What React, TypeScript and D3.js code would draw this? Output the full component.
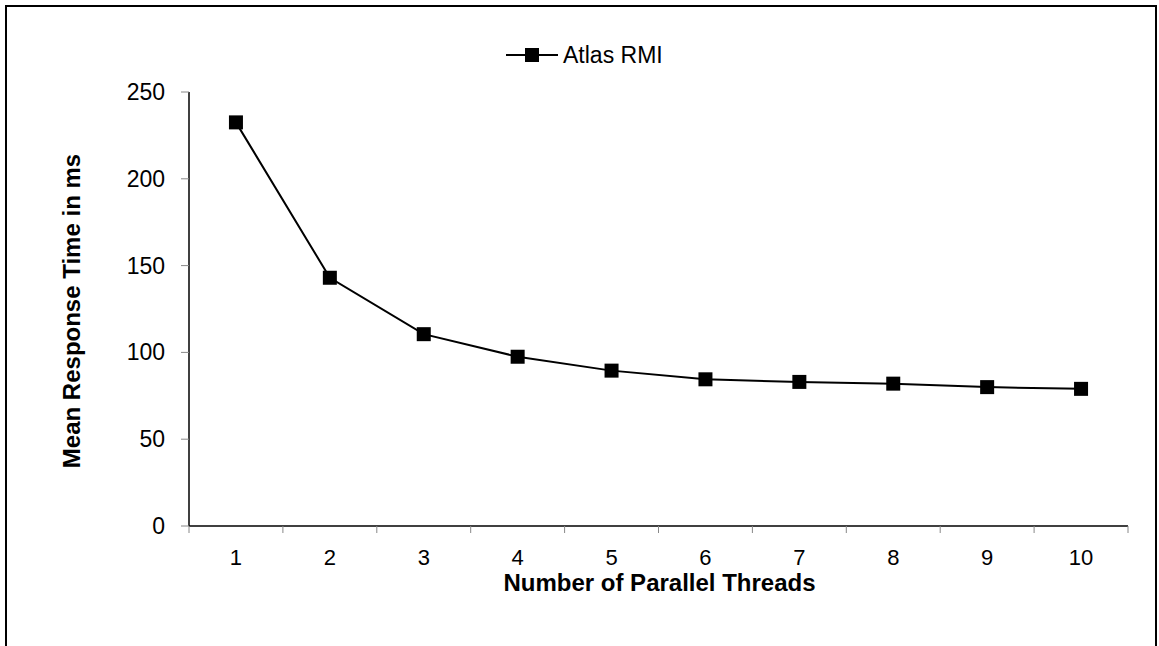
import React from "react";
import * as d3 from "d3";

const categories = ["1", "2", "3", "4", "5", "6", "7", "8", "9", "10"];
const seriesName = "Atlas RMI";
const values = [232.5, 143, 110.5, 97.5, 89.5, 84.5, 83, 82, 80, 79];
const yTicks = [0, 50, 100, 150, 200, 250];

export default function App() {
  const W = 1159, H = 646;
  const left = 189, right = 1128, top = 92, bottom = 526;
  const x = d3.scaleBand().domain(categories).range([left, right]);
  const y = d3.scaleLinear().domain([0, 250]).range([bottom, top]);
  const line = d3.line<number>()
    .x((_, i) => x(categories[i])! + x.bandwidth() / 2)
    .y((d) => y(d));
  const font = "Liberation Sans, Arial, sans-serif";
  const ms = 14;
  const fs = 23;
  return (
    <svg width={W} height={H} style={{ position: "absolute", left: 0, top: 0 }} fontFamily={font}>
      <rect x={0} y={0} width={W} height={H} fill="#fff" />
      <rect x={6} y={6} width={1150} height={700} fill="none" stroke="#000" strokeWidth={2} />
      {/* y axis */}
      <line x1={left} x2={left} y1={top} y2={bottom} stroke="#000" strokeWidth={1.5} />
      {yTicks.map((t) => (
        <g key={t}>
          <line x1={left - 8} x2={left} y1={y(t)} y2={y(t)} stroke="#888" strokeWidth={1} />
          <text x={left - 24} y={y(t)} dy="0.35em" textAnchor="end" fontSize={fs}>{t}</text>
        </g>
      ))}
      {/* x axis */}
      <line x1={left} x2={right} y1={bottom} y2={bottom} stroke="#000" strokeWidth={1.5} />
      {categories.map((c) => (
        <line key={"t" + c} x1={x(c)!} x2={x(c)!} y1={bottom} y2={bottom + 7} stroke="#888" strokeWidth={1} />
      ))}
      <line x1={right} x2={right} y1={bottom} y2={bottom + 7} stroke="#888" strokeWidth={1} />
      {categories.map((c) => (
        <text key={"l" + c} x={x(c)! + x.bandwidth() / 2} y={bottom + 31} dy="0.35em" textAnchor="middle" fontSize={22}>{c}</text>
      ))}
      <text x={(left + right) / 2 + 1} y={583} dy="0.35em" textAnchor="middle" fontSize={24} fontWeight="bold">Number of Parallel Threads</text>
      <text transform={`translate(72,${(top + bottom) / 2 + 2}) rotate(-90)`} dy="0.35em" textAnchor="middle" fontSize={24} fontWeight="bold">Mean Response Time in ms</text>
      {/* series */}
      <path d={line(values) || ""} fill="none" stroke="#000" strokeWidth={2} />
      {values.map((v, i) => (
        <rect key={i} x={x(categories[i])! + x.bandwidth() / 2 - ms / 2} y={y(v) - ms / 2} width={ms} height={ms} fill="#000" />
      ))}
      {/* legend */}
      <line x1={506} x2={558} y1={55} y2={55} stroke="#000" strokeWidth={2} />
      <rect x={532 - ms / 2} y={55 - ms / 2} width={ms} height={ms} fill="#000" />
      <text x={563} y={55} dy="0.35em" fontSize={fs}>{seriesName}</text>
    </svg>
  );
}
